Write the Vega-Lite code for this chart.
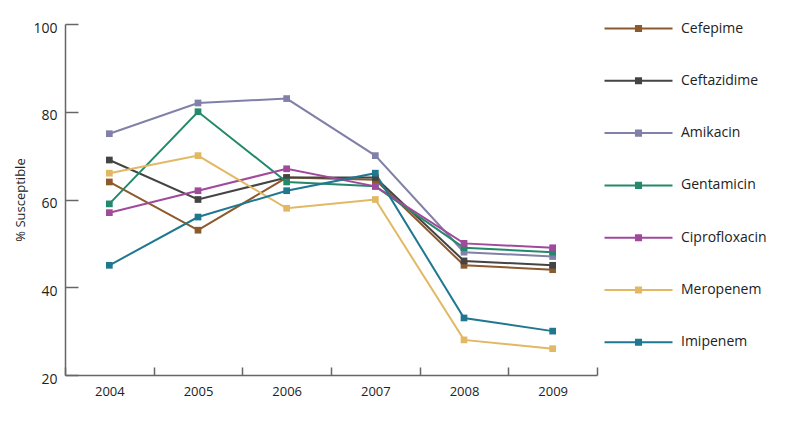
{
  "$schema": "https://vega.github.io/schema/vega-lite/v6.json",
  "width": 532,
  "height": 351,
  "autosize": "none",
  "padding": {"left": 65, "top": 24, "right": 189, "bottom": 51},
  "background": "white",
  "data": {
    "values": [
      {"drug": "Cefepime", "year": "2004", "value": 64},
      {"drug": "Cefepime", "year": "2005", "value": 53},
      {"drug": "Cefepime", "year": "2006", "value": 65},
      {"drug": "Cefepime", "year": "2007", "value": 64.5},
      {"drug": "Cefepime", "year": "2008", "value": 45},
      {"drug": "Cefepime", "year": "2009", "value": 44},
      {"drug": "Ceftazidime", "year": "2004", "value": 69},
      {"drug": "Ceftazidime", "year": "2005", "value": 60},
      {"drug": "Ceftazidime", "year": "2006", "value": 65},
      {"drug": "Ceftazidime", "year": "2007", "value": 65},
      {"drug": "Ceftazidime", "year": "2008", "value": 46},
      {"drug": "Ceftazidime", "year": "2009", "value": 45},
      {"drug": "Amikacin", "year": "2004", "value": 75},
      {"drug": "Amikacin", "year": "2005", "value": 82},
      {"drug": "Amikacin", "year": "2006", "value": 83},
      {"drug": "Amikacin", "year": "2007", "value": 70},
      {"drug": "Amikacin", "year": "2008", "value": 48},
      {"drug": "Amikacin", "year": "2009", "value": 47},
      {"drug": "Gentamicin", "year": "2004", "value": 59},
      {"drug": "Gentamicin", "year": "2005", "value": 80},
      {"drug": "Gentamicin", "year": "2006", "value": 64},
      {"drug": "Gentamicin", "year": "2007", "value": 63},
      {"drug": "Gentamicin", "year": "2008", "value": 49},
      {"drug": "Gentamicin", "year": "2009", "value": 48},
      {"drug": "Ciprofloxacin", "year": "2004", "value": 57},
      {"drug": "Ciprofloxacin", "year": "2005", "value": 62},
      {"drug": "Ciprofloxacin", "year": "2006", "value": 67},
      {"drug": "Ciprofloxacin", "year": "2007", "value": 63},
      {"drug": "Ciprofloxacin", "year": "2008", "value": 50},
      {"drug": "Ciprofloxacin", "year": "2009", "value": 49},
      {"drug": "Meropenem", "year": "2004", "value": 66},
      {"drug": "Meropenem", "year": "2005", "value": 70},
      {"drug": "Meropenem", "year": "2006", "value": 58},
      {"drug": "Meropenem", "year": "2007", "value": 60},
      {"drug": "Meropenem", "year": "2008", "value": 28},
      {"drug": "Meropenem", "year": "2009", "value": 26},
      {"drug": "Imipenem", "year": "2004", "value": 45},
      {"drug": "Imipenem", "year": "2005", "value": 56},
      {"drug": "Imipenem", "year": "2006", "value": 62},
      {"drug": "Imipenem", "year": "2007", "value": 66},
      {"drug": "Imipenem", "year": "2008", "value": 33},
      {"drug": "Imipenem", "year": "2009", "value": 30}
    ]
  },
  "mark": {
    "type": "line",
    "strokeWidth": 2,
    "point": {"shape": "square", "filled": true, "size": 45, "opacity": 1}
  },
  "encoding": {
    "x": {
      "field": "year",
      "type": "ordinal",
      "scale": {"type": "band", "paddingInner": 0, "paddingOuter": 0},
      "axis": {
        "title": null,
        "labelAngle": 0,
        "tickBand": "extent",
        "tickSize": -8,
        "labelPadding": 18,
        "labelFontSize": 13,
        "domainColor": "#666666",
        "tickColor": "#666666",
        "domainWidth": 1.5,
        "tickWidth": 1.5
      }
    },
    "y": {
      "field": "value",
      "type": "quantitative",
      "scale": {"domain": [20, 100], "nice": false, "zero": false},
      "axis": {
        "title": "% Susceptible",
        "values": [20, 40, 60, 80, 100],
        "grid": false,
        "tickSize": -13,
        "labelPadding": 21,
        "labelOffset": 4,
        "labelFontSize": 14,
        "titlePadding": 5,
        "domainColor": "#666666",
        "tickColor": "#666666",
        "domainWidth": 1.5,
        "tickWidth": 1.5
      }
    },
    "color": {
      "field": "drug",
      "type": "nominal",
      "scale": {
        "domain": ["Cefepime", "Ceftazidime", "Amikacin", "Gentamicin", "Ciprofloxacin", "Meropenem", "Imipenem"],
        "range": ["#8c5a2c", "#444444", "#8080a8", "#24896a", "#a04a9c", "#e2b864", "#1f7890"]
      },
      "legend": {
        "title": null,
        "orient": "none",
        "legendX": 564,
        "legendY": -5,
        "padding": 0,
        "symbolType": "M-4,0H4M-0.3,-0.3H0.3V0.3H-0.3Z",
        "symbolSize": 289,
        "symbolStrokeWidth": 2,
        "labelOffset": 33,
        "rowPadding": 35.3,
        "labelFontSize": 14,
        "labelFont": "Open Sans",
        "labelColor": "#222222",
        "encode": {
          "symbols": {"update": {"fill": {"scale": "color", "field": "value"}, "opacity": {"value": 1}}}
        }
      }
    }
  },
  "config": {
    "font": "Open Sans",
    "axis": {"labelColor": "#222222", "titleFontSize": 13, "titleFontWeight": "normal", "titleColor": "#222222", "labelFont": "Open Sans", "titleFont": "Open Sans"},
    "view": {"stroke": null}
  }
}
